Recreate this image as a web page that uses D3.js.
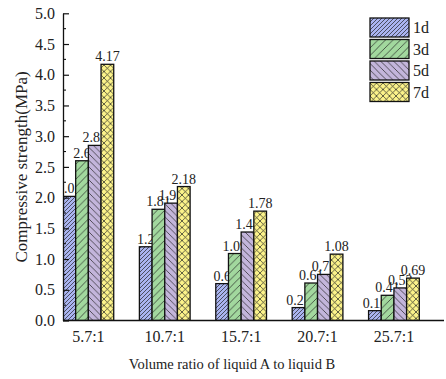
<!DOCTYPE html>
<html lang="en">
<head>
    <meta charset="UTF-8">
    <title>Compressive strength</title>
    <script src="https://d3js.org/d3.v7.min.js"></script>
    <style>
        body {
            margin: 0;
            background: white;
        }
        svg text {
            fill: #222;
            font-family: "Liberation Serif", "Times New Roman", serif;
        }
    </style>
</head>
<body>
    <div id="chart"></div>

    <script>
        // Chart data
        const categories = ['5.7:1', '10.7:1', '15.7:1', '20.7:1', '25.7:1'];
        const seriesNames = ['1d', '3d', '5d', '7d'];
        const values1d = [2.02, 1.2, 0.6, 0.21, 0.16];
        const values3d = [2.6, 1.81, 1.09, 0.61, 0.41];
        const values5d = [2.85, 1.91, 1.44, 0.75, 0.53];
        const values7d = [4.17, 2.18, 1.78, 1.08, 0.69];
        const yTicks = [0, 0.5, 1, 1.5, 2, 2.5, 3, 3.5, 4, 4.5, 5];

        const seriesValues = [values1d, values3d, values5d, values7d];
        const fills = ['#aab4f0', '#a2d89e', '#c3b5db', '#fcf38a'];

        const width = 446;
        const height = 379;
        const mLeft = 63, mRight = 445, mTop = 13.3, mBottom = 320.5;

        const svg = d3.select('#chart')
            .append('svg')
            .attr('width', width)
            .attr('height', height);

        // Hatch patterns
        const defs = svg.append('defs');
        function hatch(id, color, size, dir, cross) {
            const p = defs.append('pattern')
                .attr('id', id)
                .attr('patternUnits', 'userSpaceOnUse')
                .attr('width', size)
                .attr('height', size);
            p.append('rect').attr('width', size).attr('height', size).attr('fill', color);
            const s = size;
            const fwd = `M-1,1 L1,-1 M0,${s} L${s},0 M${s - 1},${s + 1} L${s + 1},${s - 1}`;
            const back = `M-1,${s - 1} L1,${s + 1} M0,0 L${s},${s} M${s - 1},-1 L${s + 1},1`;
            const paths = cross ? [fwd, back] : [dir > 0 ? fwd : back];
            paths.forEach(d => {
                p.append('path').attr('d', d)
                    .attr('stroke', '#222')
                    .attr('stroke-width', 0.7)
                    .attr('fill', 'none');
            });
        }
        hatch('p0', fills[0], 4, 1, false);
        hatch('p1', fills[1], 7.5, 1, false);
        hatch('p2', fills[2], 6.5, -1, false);
        hatch('p3', fills[3], 6.5, 1, true);

        const clip = defs.append('clipPath').attr('id', 'plot-clip');
        clip.append('rect')
            .attr('x', mLeft).attr('y', 0)
            .attr('width', mRight - mLeft).attr('height', mBottom);

        const y = d3.scaleLinear().domain([0, 5]).range([mBottom, mTop]);
        const x = d3.scaleBand()
            .domain(categories)
            .range([mLeft, 419.3])
            .paddingInner(0.336)
            .paddingOuter(0);
        const xs = d3.scaleBand()
            .domain(seriesNames)
            .range([0, x.bandwidth()]);

        // Bars + value labels, series after series so later bars cover earlier labels
        const plot = svg.append('g').attr('clip-path', 'url(#plot-clip)');
        seriesNames.forEach((name, si) => {
            const g = plot.append('g');
            categories.forEach((cat, ci) => {
                const v = seriesValues[si][ci];
                const bx = x(cat) + xs(name);
                g.append('rect')
                    .attr('x', bx)
                    .attr('y', y(v))
                    .attr('width', xs.bandwidth())
                    .attr('height', y(0) - y(v))
                    .attr('fill', `url(#p${si})`)
                    .attr('stroke', '#111')
                    .attr('stroke-width', 1.3);
                g.append('text')
                    .attr('x', bx + xs.bandwidth() / 2)
                    .attr('y', y(v) - 3)
                    .attr('text-anchor', 'middle')
                    .attr('font-size', 14)
                    .text(v);
            });
        });

        // Y axis
        const yAxis = d3.axisLeft(y)
            .tickValues(yTicks)
            .tickFormat(d3.format('.1f'))
            .tickSizeInner(-6)
            .tickSizeOuter(0)
            .tickPadding(8);
        const yg = svg.append('g')
            .attr('transform', `translate(${mLeft},0)`)
            .call(yAxis)
            .attr('font-family', null);
        yg.select('.domain').attr('stroke', '#111').attr('stroke-width', 1.3);
        yg.selectAll('.tick line').attr('stroke', '#111').attr('stroke-width', 1.2);
        yg.selectAll('.tick text')
            .attr('font-size', 16)
            .attr('fill', '#222');
        // minor ticks
        yg.selectAll('.minor')
            .data(yTicks.slice(0, -1).map(d => d + 0.25))
            .join('line')
            .attr('class', 'minor')
            .attr('x1', 0).attr('x2', 3)
            .attr('y1', d => y(d)).attr('y2', d => y(d))
            .attr('stroke', '#111').attr('stroke-width', 1.1);

        // X axis
        const xAxis = d3.axisBottom(x).tickSize(0).tickPadding(10);
        const xg = svg.append('g')
            .attr('transform', `translate(0,${mBottom})`)
            .call(xAxis)
            .attr('font-family', null);
        xg.select('.domain').remove();
        xg.append('line')
            .attr('x1', mLeft).attr('x2', mRight - 1)
            .attr('stroke', '#111').attr('stroke-width', 1.3);
        xg.selectAll('.tick text')
            .attr('font-size', 16)
            .attr('fill', '#222');

        // Axis titles
        svg.append('text')
            .attr('x', 232)
            .attr('y', 369)
            .attr('text-anchor', 'middle')
            .attr('font-size', 14.5)
            .text('Volume ratio of liquid A to liquid B');
        svg.append('text')
            .attr('transform', `translate(27,${(mTop + mBottom) / 2}) rotate(-90)`)
            .attr('text-anchor', 'middle')
            .attr('font-size', 17)
            .text('Compressive strength(MPa)');

        // Legend
        const legend = svg.append('g').attr('transform', 'translate(370,18)');
        seriesNames.forEach((name, i) => {
            legend.append('rect')
                .attr('x', 0).attr('y', i * 21.5)
                .attr('width', 39).attr('height', 19)
                .attr('fill', `url(#p${i})`)
                .attr('stroke', '#111')
                .attr('stroke-width', 1.3);
            legend.append('text')
                .attr('x', 43).attr('y', i * 21.5 + 15)
                .attr('font-size', 16)
                .text(name);
        });
    </script>
</body>
</html>
